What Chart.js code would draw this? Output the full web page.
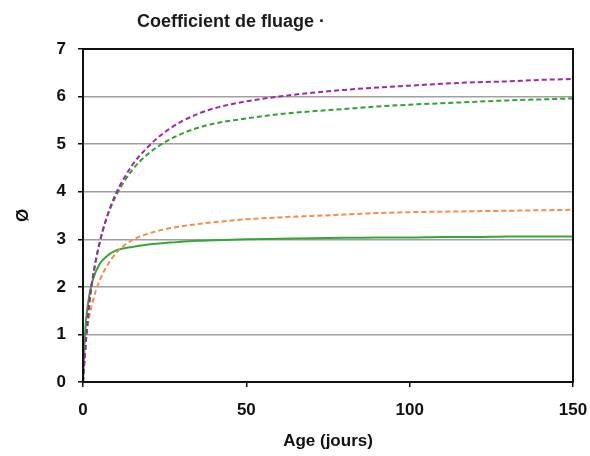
<!DOCTYPE html>
<html>
<head>
<meta charset="utf-8">
<script src="https://cdn.jsdelivr.net/npm/chart.js@4.4.0/dist/chart.umd.min.js"></script>
<style>
  html, body { margin: 0; padding: 0; background: #fff; }
  #wrap { width: 590px; height: 456px; }
</style>
</head>
<body>
<div id="wrap"><canvas id="myChart" width="590" height="456"></canvas></div>
<script>
// age in days
const days = [0, 0.5, 1, 2, 3, 5, 7, 10, 15, 20, 25, 30, 35, 40, 50, 60, 70, 80, 90, 100, 110, 120, 130, 140, 150];

// creep coefficient curves
const purpleDashed = [0, 0.5, 0.95, 1.7, 2.2, 2.9, 3.4, 3.95, 4.55, 4.95, 5.25, 5.47, 5.63, 5.75, 5.9, 6.0, 6.08, 6.14, 6.19, 6.23, 6.27, 6.3, 6.32, 6.35, 6.37];
const greenDashed  = [0, 0.5, 0.95, 1.7, 2.2, 2.9, 3.4, 3.9, 4.45, 4.8, 5.04, 5.21, 5.34, 5.43, 5.54, 5.63, 5.69, 5.74, 5.79, 5.83, 5.86, 5.89, 5.92, 5.94, 5.96];
const orangeDashed = [0, 0.55, 0.95, 1.4, 1.7, 2.12, 2.4, 2.7, 2.98, 3.12, 3.21, 3.27, 3.32, 3.36, 3.42, 3.46, 3.49, 3.52, 3.55, 3.57, 3.58, 3.59, 3.6, 3.61, 3.62];
const greenSolid   = [0, 0.85, 1.35, 1.85, 2.15, 2.47, 2.63, 2.76, 2.84, 2.89, 2.92, 2.95, 2.97, 2.98, 3.0, 3.01, 3.02, 3.03, 3.04, 3.04, 3.05, 3.05, 3.06, 3.06, 3.06];

const xTicks = [0, 50, 100, 150];
const yTicks = [0, 1, 2, 3, 4, 5, 6, 7];

const titleText = 'Coefficient de fluage ·';
const xTitle = 'Age (jours)';
const yTitle = 'Ø';

const FONT = '"Liberation Sans", Arial, sans-serif';

function pts(ys) {
  return days.map((d, i) => ({ x: d, y: ys[i] }));
}

function ds(ys, color, dashed) {
  return {
    data: pts(ys),
    borderColor: color,
    backgroundColor: color,
    borderWidth: 2,
    borderDash: dashed ? [5, 3] : [],
    pointRadius: 0,
    cubicInterpolationMode: 'monotone',
    fill: false
  };
}

const frame = {
  id: 'frame',
  afterDraw(chart) {
    const { ctx, chartArea: a } = chart;
    ctx.save();
    ctx.strokeStyle = '#111';
    ctx.lineWidth = 2;
    ctx.strokeRect(a.left, a.top, a.right - a.left, a.bottom - a.top);
    ctx.fillStyle = '#1a1a1a';
    ctx.font = 'bold 18px ' + FONT;
    ctx.textBaseline = 'alphabetic';
    ctx.textAlign = 'left';
    ctx.fillText(titleText, a.left + 54, 27);
    ctx.restore();
  }
};

new Chart(document.getElementById('myChart'), {
  type: 'line',
  data: {
    datasets: [
      ds(purpleDashed, '#a326a8', true),
      ds(greenDashed, '#2ea32e', true),
      ds(orangeDashed, '#fb8a45', true),
      ds(greenSolid, '#34a834', false)
    ]
  },
  options: {
    responsive: false,
    animation: false,
    layout: { padding: { top: 49, right: 17, left: 0, bottom: 0 } },
    plugins: { legend: { display: false }, tooltip: { enabled: false } },
    scales: {
      x: {
        type: 'linear',
        min: 0, max: 150,
        afterBuildTicks(s) { s.ticks = xTicks.map(v => ({ value: v })); },
        afterFit(s) { s.height = 74; s.paddingRight = 0; s.paddingLeft = 0; },
        grid: { drawOnChartArea: false, tickLength: 5, tickColor: '#111', lineWidth: 1.5 },
        border: { color: '#111', width: 2 },
        ticks: { color: '#111', padding: 13, maxRotation: 0, font: { family: FONT, size: 17, weight: 'bold' } },
        title: { display: true, text: xTitle, color: '#111', padding: { top: 8 }, font: { family: FONT, size: 17, weight: 'bold' } }
      },
      y: {
        min: 0, max: 7,
        afterBuildTicks(s) { s.ticks = yTicks.map(v => ({ value: v })); },
        afterFit(s) { s.width = 83; },
        grid: {
          color: '#a0a0a0', lineWidth: 1.5,
          tickLength: 5, tickColor: '#111'
        },
        border: { color: '#111', width: 2 },
        ticks: { color: '#111', padding: 12, font: { family: FONT, size: 17, weight: 'bold' } },
        title: { display: true, text: yTitle, color: '#111', padding: { top: 13, bottom: 0 }, font: { family: FONT, size: 17, weight: 'bold' } }
      }
    }
  },
  plugins: [frame]
});
</script>
</body>
</html>
